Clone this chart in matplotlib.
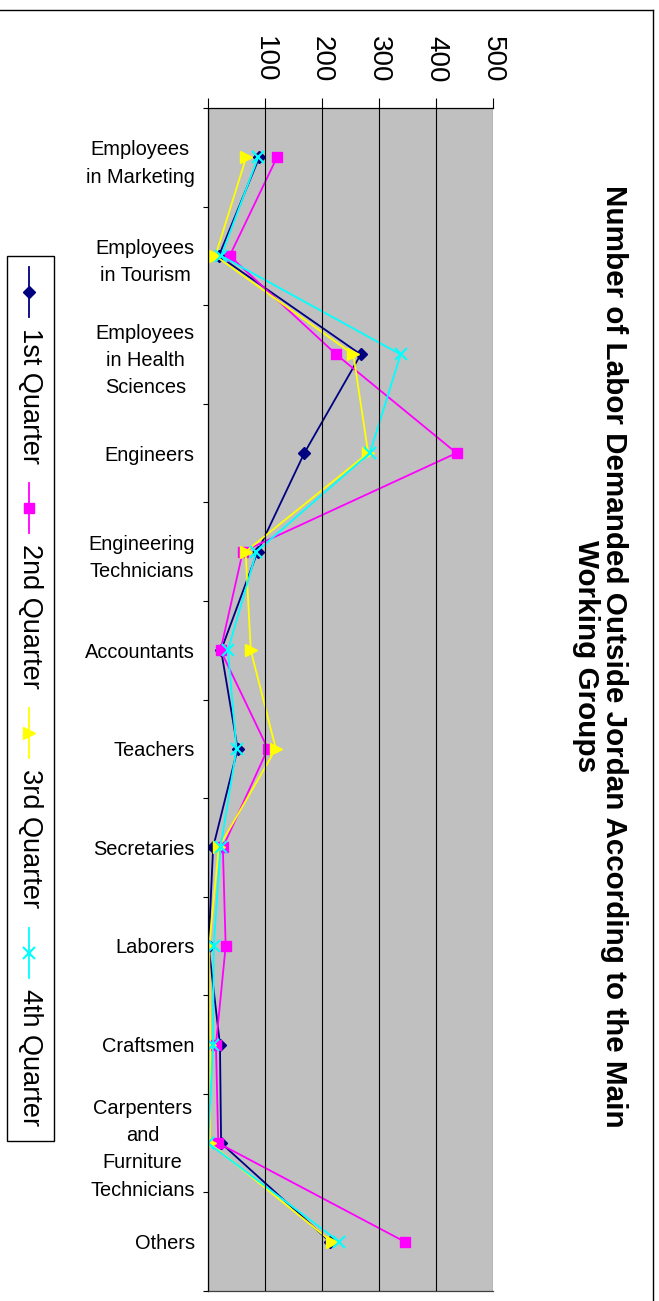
import matplotlib
matplotlib.use("Agg")
import matplotlib.pyplot as plt
from matplotlib.lines import Line2D
from matplotlib.patches import Rectangle

plt.rcParams['font.family'] = ['Liberation Sans', 'DejaVu Sans']

# ---- data -------------------------------------------------------------
categories = [
    "Employees\nin Marketing", "Employees\nin Tourism",
    "Employees\nin Health\nSciences", "Engineers",
    "Engineering\nTechnicians", "Accountants", "Teachers",
    "Secretaries", "Laborers", "Craftsmen",
    "Carpenters\nand\nFurniture\nTechnicians", "Others",
]
q1 = [90, 19, 268, 169, 87, 23, 52, 9, 1, 21, 23, 214]
q2 = [121, 38, 225, 436, 61, 22, 105, 26, 31, 14, 18, 345]
q3 = [67, 13, 255, 281, 66, 75, 119, 19, 2, 4, 3, 217]
q4 = [88, 23, 338, 284, 85, 35, 50, 22, 10, 9, 0, 230]
series_names = ["1st Quarter", "2nd Quarter", "3rd Quarter", "4th Quarter"]
value_ticks = [0, 100, 200, 300, 400, 500]
value_tick_labels = ["", "100", "200", "300", "400", "500"]
title = "Number of Labor Demanded Outside Jordan According to the Main\nWorking Groups"

# ---- styles -----------------------------------------------------------
styles = [
    dict(color="#000080", marker="D", markersize=6),
    dict(color="#FF00FF", marker="s", markersize=7),
    dict(color="#FFFF00", marker=">", markersize=8),
    dict(color="#00FFFF", marker="x", markersize=8.5, markeredgewidth=1.5),
]

W, H = 659, 1301
fig = plt.figure(figsize=(W / 100, H / 100), dpi=100)


def fx(px):
    return px / W


def fy(py):
    return 1 - py / H


left, right, top, bottom = 208, 493, 108, 1291
ax = fig.add_axes([fx(left), fy(bottom), fx(right - left), (bottom - top) / H])
ax.set_facecolor("#C0C0C0")

ypos = list(range(len(categories)))
for vals, st in zip([q1, q2, q3, q4], styles):
    ax.plot(vals, ypos, lw=1.3, **st)

ax.set_xlim(0, 500)
ax.set_ylim(len(categories) - 0.5, -0.5)

# value axis along the top, labels turned to read downward
ax.xaxis.set_ticks_position("top")
ax.set_xticks(value_ticks)
ax.set_xticklabels(value_tick_labels)
ax.tick_params(axis="x", top=True, bottom=False, labeltop=True, labelbottom=False,
               direction="out", length=7.2, width=0.8, pad=11.5,
               labelsize=20, labelrotation=-90)
ax.grid(axis="x", color="black", lw=0.8)
ax.set_axisbelow(False)

# category axis: ticks at boundaries, labels at centres
bounds = [i - 0.5 for i in range(len(categories) + 1)]
ax.set_yticks(bounds)
ax.set_yticklabels([])
ax.set_yticks(ypos, categories, minor=True)
ax.tick_params(axis="y", which="major", direction="out", length=3.6, width=0.8)
ax.tick_params(axis="y", which="minor", length=0, pad=9.5, labelsize=14.4)
for lab in ax.get_yticklabels(minor=True):
    lab.set_multialignment("center")
    lab.set_linespacing(1.55)

for s in ["top", "left"]:
    ax.spines[s].set_color("black")
    ax.spines[s].set_linewidth(0.9)
ax.spines["bottom"].set_color("#404040")
ax.spines["bottom"].set_linewidth(0.9)
ax.spines["right"].set_visible(False)

# title reading downward at the right
fig.text(fx(600), fy(656), title, rotation=-90, ha="center", va="center",
         multialignment="center", fontsize=21.3, fontweight="bold", linespacing=1.0)

# chart frame (top and right edges)
fig.add_artist(Line2D([0, fx(653)], [fy(10), fy(10)], color="black", lw=1.0,
                      transform=fig.transFigure))
fig.add_artist(Line2D([fx(653), fx(653)], [fy(10), 0], color="black", lw=1.0,
                      transform=fig.transFigure))

# legend drawn as a vertical strip on the left
fig.add_artist(Rectangle((fx(7), fy(1141)), fx(54 - 7), (1141 - 256) / H,
                         facecolor="white", edgecolor="black", lw=1.0,
                         transform=fig.transFigure))
entry_tops = [267, 483, 708, 928]
for name, st, y0 in zip(series_names, styles, entry_tops):
    fig.add_artist(Line2D([fx(29), fx(29)], [fy(y0), fy(y0 + 50)], lw=1.3,
                          color=st["color"], transform=fig.transFigure))
    mk = {k: v for k, v in st.items() if k != "color"}
    fig.add_artist(Line2D([fx(29)], [fy(y0 + 25)], color=st["color"], lw=0,
                          transform=fig.transFigure, **mk))
    fig.text(fx(23), fy(y0 + 61), name, rotation=-90, rotation_mode="anchor",
             ha="left", va="baseline", fontsize=19.5)

fig.savefig("out.png", dpi=100)
